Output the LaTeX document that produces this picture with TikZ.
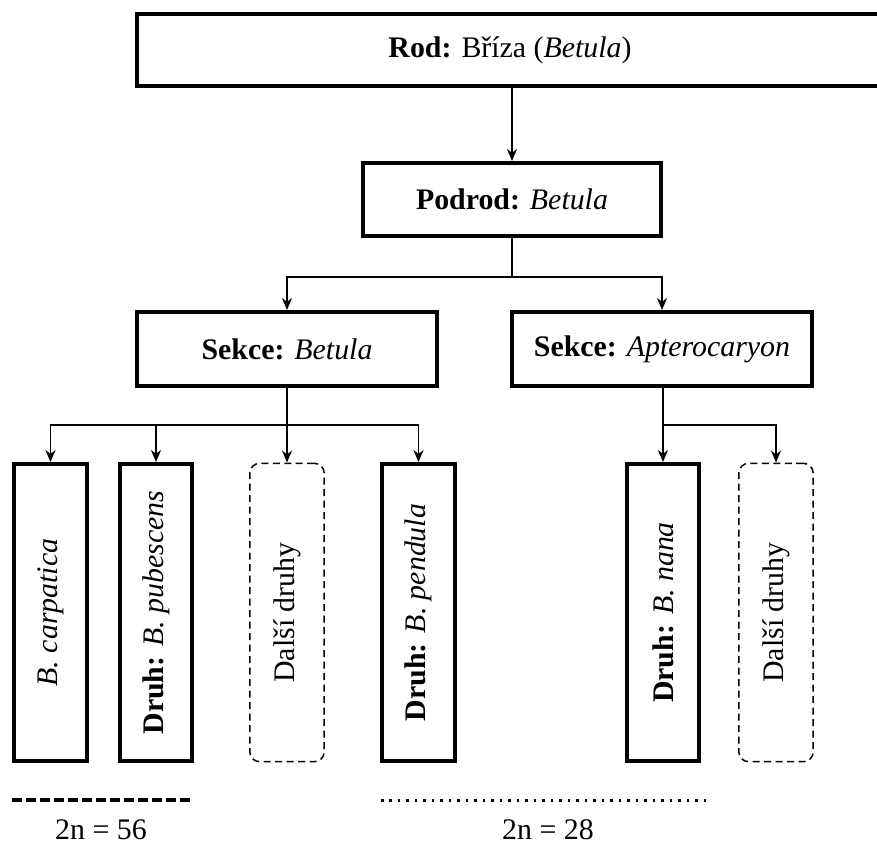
\documentclass[tikz,border=0pt]{standalone}
\usepackage{fontspec}
\setmainfont{Liberation Serif}
\usepackage{tikz}
\usetikzlibrary{
  arrows.meta,
  positioning
}

\begin{document}
\begin{tikzpicture}[
  x=0.02cm,
  y=-0.02cm,
  >=Stealth,
  font=\fontsize{17}{20}\selectfont,
  rank/.style={draw, line width=0.08cm, inner sep=0pt},
  species/.style={draw, line width=0.08cm, inner sep=0pt,
                  minimum width=1.46cm, minimum height=5.94cm},
  others/.style={draw, line width=0.03cm, inner sep=0pt,
                 dash pattern=on 0.14cm off 0.09cm, rounded corners=0.2cm,
                 minimum width=1.49cm, minimum height=5.97cm},
  conn/.style={line width=0.035cm, -{Stealth[length=0.24cm,width=0.2cm]}},
  every node/.style={inner sep=2pt}
]

  % Page frame of the reference.
  \useasboundingbox (0,0) rectangle (877,846);

  % Genus, subgenus and the two sections.
  \node[rank, minimum width=14.92cm, minimum height=1.44cm]
    (rod) at (510,50) {\textbf{Rod:} Bříza (\textit{Betula})};
  \node[rank, minimum width=5.96cm, minimum height=1.46cm]
    (podrod) at (512,199.5) {\textbf{Podrod:} \textit{Betula}};
  \node[rank, minimum width=6.0cm, minimum height=1.48cm]
    (sekceB) at (287,349) {\textbf{Sekce:} \textit{Betula}};
  \node[rank, minimum width=6.0cm, minimum height=1.48cm]
    (sekceA) at (662,349) {\textbf{Sekce:} \textit{Apterocaryon}};

  % Species, written upwards.
  \node[species] (carpatica) at (50.5,612.5)
    {\rotatebox{90}{\textit{B. carpatica}}};
  \node[species] (pubescens) at (156,612.5)
    {\rotatebox{90}{\textbf{Druh:} \textit{B. pubescens}}};
  \node[others] (dalsiB) at (287,612.5)
    {\rotatebox{90}{Další druhy}};
  \node[species] (pendula) at (418.5,612.5)
    {\rotatebox{90}{\textbf{Druh:} \textit{B. pendula}}};
  \node[species] (nana) at (663,612.5)
    {\rotatebox{90}{\textbf{Druh:} \textit{B. nana}}};
  \node[others] (dalsiA) at (776,612.5)
    {\rotatebox{90}{Další druhy}};

  % Connectors down the tree.
  \draw[conn] (rod.south -| podrod.north) -- (podrod.north);
  \draw[conn] (podrod.south) -- ++(0,39) -| (sekceB.north);
  \draw[conn] (podrod.south) -- ++(0,39) -| (sekceA.north);
  \draw[conn] (sekceB.south) -- (dalsiB.north);
  \draw[conn] (sekceB.south) -- ++(0,37) -| (carpatica.north);
  \draw[conn] (sekceB.south) -- ++(0,37) -| (pubescens.north);
  \draw[conn] (sekceB.south) -- ++(0,37) -| (pendula.north);
  \draw[conn] (sekceA.south -| nana.north) -- (nana.north);
  \draw[conn] (sekceA.south -| nana.north) -- ++(0,37) -| (dalsiA.north);

  % Chromosome numbers under the two groups.
  \draw[line width=0.08cm, dash pattern=on 0.2cm off 0.08cm]
    (12,800) -- (193,800);
  \draw[line width=0.06cm, dash pattern=on 0.05cm off 0.12cm]
    (381,800) -- (708,800);
  \node (n56) at (101,830) {2n = 56};
  \node (n28) at (548,830) {2n = 28};

\end{tikzpicture}
\end{document}
